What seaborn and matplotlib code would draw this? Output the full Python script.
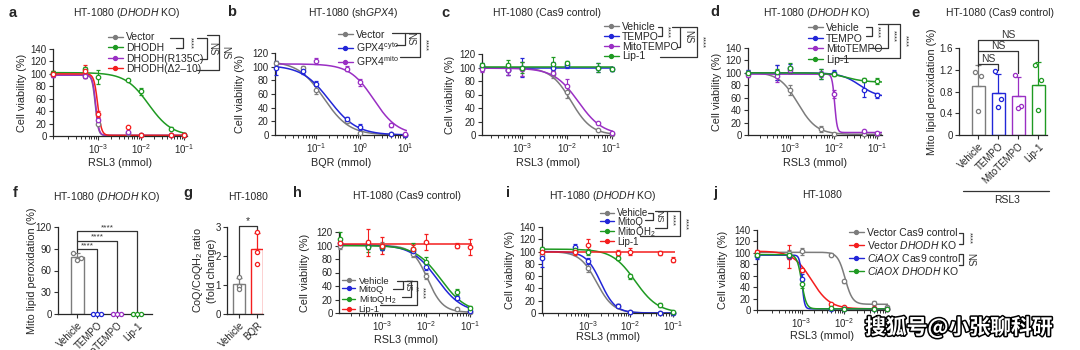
import numpy as np
import pandas as pd
import matplotlib
matplotlib.use("Agg")
import matplotlib.pyplot as plt
import seaborn as sns
from matplotlib.lines import Line2D
from matplotlib import patheffects

sns.set_theme(style="ticks")
plt.rcParams['font.family'] = ['Liberation Sans', 'DejaVu Sans']
plt.rcParams['mathtext.fontset'] = 'custom'
plt.rcParams['mathtext.rm'] = 'Liberation Sans'
plt.rcParams['mathtext.it'] = 'Liberation Sans:italic'
plt.rcParams['mathtext.bf'] = 'Liberation Sans:bold'
plt.rcParams['axes.linewidth'] = 0.9

GREY, GREEN, BLUE, PURPLE, RED = '#7c7c7c', '#1f9a22', '#2226d8', '#9a2fc4', '#f41e1e'

# ---------------- data ----------------
# a: HT-1080 (DHODH KO), RSL3
dose_a = [9e-5, 5e-4, 1e-3, 5e-3, 1e-2, 5e-2, 1e-1]
a_names = ['Vector', 'DHODH', 'DHODH(R135C)', 'DHODH(Δ2–10)']
a_mean = [[100, 97, 20, 5, 2, 1, 1],
          [102, 108, 95, 90, 72, 12, 1],
          [98, 97, 25, 6, 2, 1, 1],
          [100, 105, 36, 14, 2, 1, 1]]
a_sd = [[5, 4, 3, 1, 1, 1, 1],
        [3, 3, 12, 2, 6, 3, 1],
        [3, 3, 4, 1, 1, 1, 1],
        [4, 10, 5, 1, 1, 1, 1]]
a_fit = [[98, 1, 8.6e-4, 12], [102, 0, 1.5e-2, 1.6], [98, 1, 8.8e-4, 12], [100, 1, 9.8e-4, 10]]

# b: HT-1080 (shGPX4), BQR
dose_b = [0.0125, 0.05, 0.1, 0.5, 1, 5, 10]
b_names = ['Vector', r'GPX4$^{\mathrm{cyto}}$', r'GPX4$^{\mathrm{mito}}$']
b_mean = [[106, 98, 66, 20, 3, 1, 0],
          [98, 93, 75, 24, 12, 1, 0],
          [np.nan, np.nan, 108, 97, 77, 14, 1]]
b_sd = [[3, 3, 6, 3, 2, 1, 1],
        [10, 3, 4, 3, 4, 1, 1],
        [np.nan, np.nan, 4, 4, 5, 3, 1]]
b_fit = [[108, 0, 0.15, 1.5], [102, 0, 0.2, 1.4], [104, 0, 2.0, 1.6]]

# c: HT-1080 (Cas9 control)
dose_c = [1.3e-4, 5e-4, 1e-3, 5e-3, 1e-2, 5e-2, 1e-1]
c_names = ['Vehicle', 'TEMPO', 'MitoTEMPO', 'Lip-1']
c_mean = [[100, 97, 98, 90, 63, 8, 1],
          [102, 97, 100, 100, 103, 100, 98],
          [98, 97, 98, 92, 73, 18, 3],
          [103, 103, 100, 105, 107, 100, 98]]
c_sd = [[5, 8, 10, 5, 8, 1, 1],
        [5, 8, 14, 8, 3, 7, 3],
        [4, 8, 10, 5, 10, 2, 2],
        [3, 8, 8, 10, 3, 6, 3]]
c_fit = [[100, 0, 0.0125, 1.9], [100, 100, 1, 1], [99, 0, 0.018, 1.6], [101, 101, 1, 1]]

# d: HT-1080 (DHODH KO)
dose_d = [1.1e-4, 5e-4, 1e-3, 5e-3, 1e-2, 5e-2, 1e-1]
d_names = ['Vehicle', 'TEMPO', 'MitoTEMPO', 'Lip-1']
d_mean = [[100, 100, 73, 10, 2, 1, 1],
          [100, 100, 108, 98, 100, 73, 64],
          [97, 95, 105, 98, 66, 6, 4],
          [100, 102, 108, 98, 98, 88, 87]]
d_sd = [[4, 12, 8, 5, 1, 1, 1],
        [4, 12, 6, 8, 4, 12, 4],
        [4, 10, 5, 5, 6, 2, 1],
        [3, 5, 8, 8, 3, 3, 5]]
d_fit = [[101, 1, 1.5e-3, 2], [100, 60, 0.04, 2], [98, 4, 0.0105, 15], [100, 85, 0.02, 2]]

# e: mito lipid peroxidation, Cas9 control
e_cats = ['Vehicle', 'TEMPO', 'MitoTEMPO', 'Lip-1']
e_reps = [[1.15, 1.09, 0.44], [1.17, 0.66, 0.51], [1.11, 0.54, 0.49], [1.29, 1.02, 0.46]]

# f: mito lipid peroxidation, DHODH KO
f_cats = ['Vehicle', 'TEMPO', 'MitoTEMPO', 'Lip-1']
f_reps = [[84, 77, 74], [0.5, 0.5, 0.5], [0.5, 0.5, 0.5], [0.5, 0.5, 0.5]]

# g: CoQ/CoQH2 ratio
g_cats = ['Vehicle', 'BQR']
g_reps = [[1.27, 0.97, 0.85], [2.82, 2.15, 1.74]]

# h: HT-1080 (Cas9 control)
dose_h = [1.1e-4, 5e-4, 1e-3, 5e-3, 1e-2, 5e-2, 1e-1]
h_names = ['Vehicle', 'MitoQ', r'MitoQH$_2$', 'Lip-1']
h_mean = [[100, 100, 100, 88, 55, 6, 1],
          [103, 100, 97, 92, 68, 22, 3],
          [110, 98, 98, 95, 76, 31, 8],
          [103, 105, 100, 95, 105, 100, 98]]
h_sd = [[5, 5, 5, 5, 5, 1, 1],
        [5, 5, 4, 5, 5, 3, 2],
        [10, 8, 4, 8, 7, 5, 3],
        [5, 20, 12, 6, 12, 3, 12]]
h_fit = [[100, 1, 0.011, 2.5], [101, 0, 0.018, 1.5], [100, 0, 0.022, 1.5], [102, 102, 1, 1]]

# i: HT-1080 (DHODH KO)
dose_i = [8.5e-5, 5e-4, 1e-3, 5e-3, 1e-2, 5e-2, 1e-1]
i_names = ['Vehicle', 'MitoQ', r'MitoQH$_2$', 'Lip-1']
i_mean = [[95, 103, 73, 12, 1, 0, 0],
          [90, 108, 85, 12, 1, 0, 0],
          [104, 102, 100, 90, 60, 13, 2],
          [100, 100, 110, 98, 100, 98, 87]]
i_sd = [[6, 5, 6, 3, 1, 1, 1],
        [15, 5, 5, 2, 1, 1, 1],
        [4, 5, 5, 3, 4, 3, 1],
        [5, 5, 10, 4, 6, 3, 4]]
i_fit = [[100, 0, 1.6e-3, 2.2], [100, 0, 2e-3, 2.5], [104, 0, 0.013, 1.6], [99, 99, 1, 1]]

# j: HT-1080, CiAOX
dose_j = [9e-5, 5e-4, 1e-3, 5e-3, 1e-2, 5e-2, 1e-1]
j_names = ['Vector Cas9 control', r'Vector $\it{DHODH}$ KO',
           r'$\it{CiAOX}$ Cas9 control', r'$\it{CiAOX}$ $\it{DHODH}$ KO']
j_mean = [[100, 100, 103, 97, 50, 12, 5],
          [102, 93, 70, 10, 5, 3, 2],
          [95, 95, 55, 2, 2, 2, 2],
          [97, 97, 45, 3, 2, 2, 2]]
j_sd = [[3, 5, 6, 3, 3, 4, 2],
        [3, 20, 4, 3, 2, 1, 1],
        [5, 5, 8, 1, 1, 1, 1],
        [3, 4, 6, 1, 1, 1, 1]]
j_fit = [[101, 10, 0.0105, 5], [103, 2, 1.7e-3, 2], [96, 2, 1.02e-3, 15], [97, 2, 1.0e-3, 8]]

# ---------------- figure helpers ----------------
W, H = 1080, 350
fig = plt.figure(figsize=(W / 100, H / 100), dpi=100)
INK = '#333333'


def fx(x):
    return x / W


def fy(y):
    return 1 - y / H


def place(box):
    l, t, r, b = box
    return fig.add_axes([fx(l), fy(b), (r - l) / W, (b - t) / H])


def fline(xs, ys):
    fig.add_artist(Line2D([fx(v) for v in xs], [fy(v) for v in ys], color=INK, lw=0.9))


def bracket(x, y1, y2, xl1, xl2, label, tx, fs=6.5):
    fline([xl1, x, x, xl2], [y1, y1, y2, y2])
    fig.text(fx(tx), fy((y1 + y2) / 2), label, rotation=270, ha='center', va='center',
             fontsize=fs, color=INK)


def label_axes(ax, box, letter, lpos, title, tpos, ylabel, ylx, xlabel=None, xly=None):
    l, t, r, b = box
    fig.text(fx(lpos[0]), fy(lpos[1]), letter, fontsize=10.5, fontweight='bold', ha='center', va='center')
    ax.set_title(title, x=(tpos[0] - l) / (r - l), y=(b - tpos[1]) / (b - t), pad=0,
                 fontsize=7.5, va='center')
    ax.set_ylabel(ylabel, fontsize=7.8, va='center', ha='center')
    ax.yaxis.set_label_coords((ylx - l) / (r - l), 0.5)
    if xlabel:
        ax.set_xlabel(xlabel, fontsize=7.8, va='center')
        ax.xaxis.set_label_coords(0.5, (b - xly) / (b - t))


def style_ticks(ax):
    sns.despine(ax=ax)
    ax.tick_params(axis='both', which='major', length=3, width=0.8, labelsize=7, pad=1.5, color=INK)
    ax.tick_params(axis='both', which='minor', length=1.8, width=0.7, color=INK)


def dose_panel(ax, dose, means, sds, fits, colors, xlim, ymax, ystep, xticks):
    ax.set_xscale('log')
    xs = np.logspace(np.log10(xlim[0]), np.log10(xlim[1]), 400)
    for m, s, p, c in zip(means, sds, fits, colors):
        top, bottom, ic50, hill = p
        curve = bottom + (top - bottom) / (1 + (xs / ic50) ** hill)
        sns.lineplot(x=xs, y=curve, color=c, lw=1.1, ax=ax, zorder=2)
        ax.errorbar(dose, m, yerr=s, fmt='o', ms=3.2, mfc='white', mec=c, mew=0.9, ecolor=c,
                    elinewidth=0.8, capsize=1.6, capthick=0.8, zorder=3, clip_on=False)
    ax.set_xlim(xlim)
    ax.set_ylim(0, ymax)
    ax.set_yticks(np.arange(0, ymax + 1, ystep))
    ax.set_xticks(xticks)
    style_ticks(ax)


def legend_at(ax, names, colors, x, y, fs=7.5, spacing=0.05):
    handles = [Line2D([], [], color=c, lw=1.0, marker='o', ms=2.8) for c in colors]
    ax.legend(handles, names, loc='upper left', bbox_to_anchor=(fx(x), fy(y)),
              bbox_transform=fig.transFigure, frameon=False, fontsize=fs, handlelength=1.4,
              handletextpad=0.35, labelspacing=spacing, borderpad=0, borderaxespad=0)


def bar_panel(ax, cats, reps, colors, xlim, ymax, yticks, offs):
    df = pd.DataFrame({'cond': np.repeat(cats, [len(r) for r in reps]),
                       'val': np.concatenate(reps)})
    sns.barplot(data=df, x='cond', y='val', hue='cond', palette=dict(zip(cats, colors)),
                errorbar=None, fill=False, width=0.65, linewidth=1.0, legend=False, ax=ax)
    stats = df.groupby('cond', sort=False)['val'].agg(['mean', 'std'])
    for k, (cat, c) in enumerate(zip(cats, colors)):
        ax.errorbar(k, stats.loc[cat, 'mean'], yerr=[[0], [stats.loc[cat, 'std']]], fmt='none',
                    ecolor=c, elinewidth=0.9, capsize=2.2, capthick=0.9, clip_on=False)
        ax.scatter(k + np.array(offs[:len(reps[k])]), reps[k], s=9, facecolors='white',
                   edgecolors=c, linewidths=0.9, zorder=3, clip_on=False)
    ax.set_xlim(xlim)
    ax.set_ylim(0, ymax)
    ax.set_yticks(yticks)
    ax.set_xticks(range(len(cats)))
    ax.set_xticklabels(cats, rotation=45, ha='right', rotation_mode='anchor')
    ax.set_xlabel('')
    style_ticks(ax)


def sig(ax, x1, x2, y, h1, h2, label, fs=7.5):
    ax.plot([x1, x1, x2, x2], [h1, y, y, h2], color=INK, lw=0.9, clip_on=False)
    ax.text((x1 + x2) / 2, y, label, ha='center', va='bottom', fontsize=fs, color=INK, clip_on=False)


CV = 'Cell viability (%)'
RSL = 'RSL3 (mmol)'
four = [GREY, BLUE, PURPLE, GREEN]

# ---- a ----
box = (53, 49, 187, 136)
ax = place(box)
dose_panel(ax, dose_a, a_mean, a_sd, a_fit, [GREY, GREEN, PURPLE, RED],
           (10 ** -4.05, 10 ** -0.93), 140, 20, [1e-3, 1e-2, 1e-1])
label_axes(ax, box, 'a', (13, 13), r'HT-1080 ($\it{DHODH}$ KO)', (127, 13), CV, 22, RSL, 163)
legend_at(ax, a_names, [GREY, GREEN, PURPLE, RED], 108, 32.5)
bracket(183, 38, 48, 170, 176, '****', 190, 5.5)
bracket(207, 38, 59, 197, 200, 'NS', 212, 7)
bracket(219, 35, 70, 207, 197, 'NS', 225, 7)

# ---- b ----
box = (275, 53, 407, 135)
ax = place(box)
dose_panel(ax, dose_b, b_mean, b_sd, b_fit, [GREY, BLUE, PURPLE],
           (10 ** -1.92, 10 ** 1.05), 120, 20, [1e-1, 1, 10])
label_axes(ax, box, 'b', (232, 12), r'HT-1080 (sh$\it{GPX4}$)', (353, 13), CV, 240, 'BQR (mmol)', 163)
legend_at(ax, b_names, [GREY, BLUE, PURPLE], 338, 29.5)
bracket(405, 33, 45, 392, 396, 'NS', 410, 7)
bracket(420, 33, 57, 405, 400, '****', 425, 5.5)

# ---- c ----
box = (482, 54, 613, 135)
ax = place(box)
dose_panel(ax, dose_c, c_mean, c_sd, c_fit, four,
           (10 ** -3.89, 10 ** -0.97), 120, 20, [1e-3, 1e-2, 1e-1])
label_axes(ax, box, 'c', (445, 13), 'HT-1080 (Cas9 control)', (547, 13), CV, 450, RSL, 163)
legend_at(ax, c_names, four, 604, 22, spacing=-0.02)
bracket(662, 27, 36, 658, 658, '****', 667, 5.5)
bracket(680, 27, 47, 672, 677, 'NS', 688, 7)
bracket(697, 27, 57, 680, 660, '****', 702, 5.5)

# ---- d ----
box = (748, 48, 882, 135)
ax = place(box)
dose_panel(ax, dose_d, d_mean, d_sd, d_fit, four,
           (10 ** -3.97, 10 ** -0.89), 140, 20, [1e-3, 1e-2, 1e-1])
label_axes(ax, box, 'd', (715, 12), r'HT-1080 ($\it{DHODH}$ KO)', (817, 13), CV, 717, RSL, 163)
legend_at(ax, d_names, four, 808, 23)
bracket(872, 27, 36, 866, 866, '****', 877, 5.5)
bracket(888, 24, 48, 878, 870, '****', 893, 5.5)
bracket(900, 24, 58, 888, 838, '****', 905, 5.5)

# ---- e ----
box = (959, 48, 1047, 135)
ax = place(box)
bar_panel(ax, e_cats, e_reps, four, (-0.95, 3.45), 1.6, [0, 0.4, 0.8, 1.2, 1.6], [-0.17, 0.17, 0])
ax.set_yticklabels(['0', '0.4', '0.8', '1.2', '1.6'])
label_axes(ax, box, 'e', (915, 13), 'HT-1080 (Cas9 control)', (1000, 13), 'Mito lipid peroxidation (%)', 932)
sig(ax, 0, 1, 1.31, 1.27, 1.2, 'NS')
sig(ax, 0, 2, 1.54, 1.31, 1.14, 'NS')
sig(ax, 0, 3, 1.75, 1.54, 1.36, 'NS')
fline([963, 1049], [191, 191])
fig.text(fx(1007), fy(200), 'RSL3', fontsize=7.5, ha='center', va='center')

# ---- f ----
box = (58, 227, 152, 314)
ax = place(box)
bar_panel(ax, f_cats, f_reps, four, (-0.95, 3.75), 120, [0, 30, 60, 90, 120], [-0.2, 0.2, 0])
label_axes(ax, box, 'f', (15, 193), r'HT-1080 ($\it{DHODH}$ KO)', (107, 197), 'Mito lipid peroxidation (%)', 32)
sig(ax, 0, 1, 89, 86, 3, '****', 6)
sig(ax, 0, 2, 101, 89, 3, '****', 6)
sig(ax, 0, 3, 114, 101, 3, '****', 6)

# ---- g ----
box = (227, 227, 263, 314)
ax = place(box)
bar_panel(ax, g_cats, g_reps, [GREY, RED], (-0.67, 1.33), 3, [0, 1, 2, 3], [0.0, 0.0, 0.0])
label_axes(ax, box, 'g', (188, 193), 'HT-1080', (248, 197), 'CoQ/CoQH$_2$ ratio\n(fold change)', 204)
sig(ax, 0, 1, 3.02, 1.35, 2.88, '*')

# ---- h ----
box = (339, 232, 472, 313)
ax = place(box)
dose_panel(ax, dose_h, h_mean, h_sd, h_fit, [GREY, BLUE, GREEN, RED],
           (10 ** -3.97, 10 ** -0.95), 120, 20, [1e-3, 1e-2, 1e-1])
label_axes(ax, box, 'h', (297, 193), 'HT-1080 (Cas9 control)', (407, 196), CV, 305, RSL, 340)
legend_at(ax, h_names, [GREY, BLUE, GREEN, RED], 342, 276.5, fs=6.8, spacing=-0.08)
bracket(403, 281, 289, 397, 393, 'NS', 408, 6.5)
bracket(411, 281, 297, 404, 402, '**', 415, 5.5)
bracket(417, 281, 305, 411, 380, '****', 422, 5.5)

# ---- i ----
box = (542, 227, 675, 313)
ax = place(box)
dose_panel(ax, dose_i, i_mean, i_sd, i_fit, [GREY, BLUE, GREEN, RED],
           (10 ** -4.08, 10 ** -0.95), 140, 20, [1e-3, 1e-2, 1e-1])
label_axes(ax, box, 'i', (508, 193), r'HT-1080 ($\it{DHODH}$ KO)', (603, 196), CV, 510, RSL, 337)
legend_at(ax, i_names, [GREY, BLUE, GREEN, RED], 600, 208.5, fs=7, spacing=-0.2)
bracket(653, 213, 220, 648, 645, 'NS', 659, 6.5)
bracket(667, 211, 228, 655, 655, '****', 672, 5.5)
bracket(680, 211, 236, 667, 640, '****', 685, 5.5)

# ---- j ----
box = (757, 230, 888, 310)
ax = place(box)
dose_panel(ax, dose_j, j_mean, j_sd, j_fit, [GREY, RED, BLUE, GREEN],
           (10 ** -4.05, 10 ** -0.97), 140, 20, [1e-3, 1e-2])
label_axes(ax, box, 'j', (715, 193), 'HT-1080', (822, 195), CV, 723, RSL, 336)
legend_at(ax, j_names, [GREY, RED, BLUE, GREEN], 849, 227.5, fs=7.5, spacing=0.1)
bracket(963, 233, 244, 959, 959, '****', 969, 5.5)
bracket(963, 254, 265, 959, 959, 'NS', 970, 7)

# watermark
fig.text(fx(959), fy(327), '搜狐号@小张聊科研', family=['Noto Sans CJK SC', 'DejaVu Sans'],
         fontsize=15, fontweight='bold', color='white', ha='center', va='center',
         path_effects=[patheffects.withStroke(linewidth=2.2, foreground='black')])

fig.savefig('out.png', dpi=100)
